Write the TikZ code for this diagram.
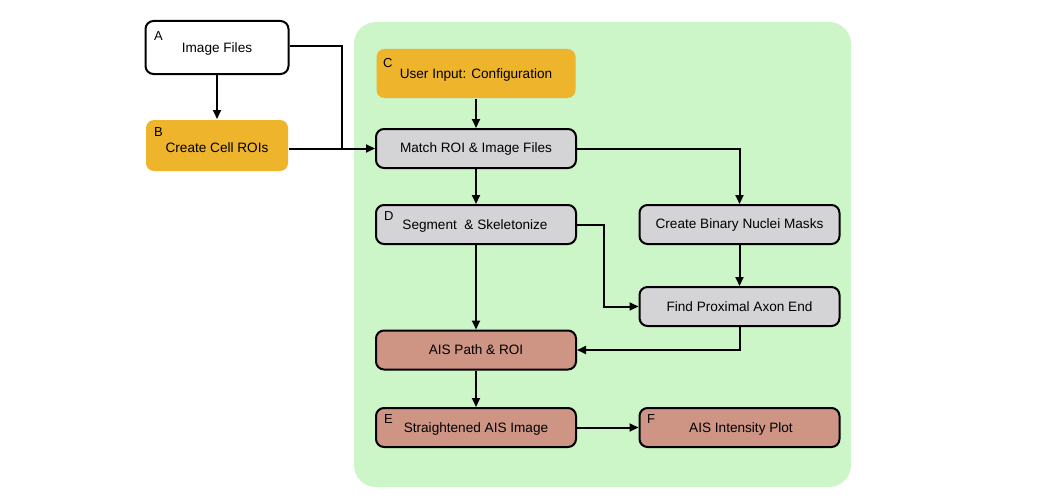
\documentclass[tikz,border=0pt]{standalone}
\usepackage{fontspec}
\setmainfont{Liberation Sans}
\usetikzlibrary{arrows.meta}
\definecolor{bggreen}{HTML}{CCF5C8}
\definecolor{orangebox}{HTML}{EDB42C}
\definecolor{graybox}{HTML}{D4D4D6}
\definecolor{salmonbox}{HTML}{CE9484}
\tikzset{
  txt/.style={font=\fontsize{13.6}{16}\selectfont, inner sep=0pt},
  box/.style={rectangle, rounded corners=8pt, minimum width=200pt, minimum height=39pt, inner sep=0pt, txt, line width=2pt},
  graystyle/.style={box, draw=black, fill=graybox},
  salmonstyle/.style={box, draw=black, fill=salmonbox},
  orangestyle/.style={box, fill=orangebox},
  letter/.style={font=\fontsize{13}{15}\selectfont, inner sep=0pt, anchor=north west},
  conn/.style={line width=2pt, -{Triangle[length=9pt,width=8pt]}},
}
\begin{document}
\begin{tikzpicture}[x=1pt,y=-1pt]
\useasboundingbox (0,0) rectangle (1049,503);
\fill[bggreen, rounded corners=22pt] (354,22) rectangle (851,487);

\node[box, draw=black, fill=white, minimum width=143pt, minimum height=53pt] (A) at (217,47.5) {};
\node[txt] (At) at (217,49) {Image Files};
\node[orangestyle, minimum width=142pt, minimum height=51pt] (B) at (217,145.5) {};
\node[txt] (Bt) at (217,148) {Create Cell ROIs};
\node[orangestyle, minimum width=199pt, minimum height=49pt] (C) at (476,73.5) {};
\node[txt] (Ct) at (476,75) {User Input: Configuration};
\node[graystyle] (M) at (476,148.5) {Match ROI \& Image Files};
\node[graystyle] (D) at (476,224.5) {};
\node[txt] (Dt) at (475,226) {Segment\ \ \& Skeletonize};
\node[graystyle] (N) at (739.5,224.5) {Create Binary Nuclei Masks};
\node[graystyle] (P) at (739.5,306.5) {Find Proximal Axon End};
\node[salmonstyle] (S) at (476,350) {AIS Path \& ROI};
\node[salmonstyle] (E) at (476,427.5) {};
\node[txt] (Et) at (476,429) {Straightened AIS Image};
\node[salmonstyle] (F) at (739.5,427.5) {};
\node[txt] (Ft) at (741,429) {AIS Intensity Plot};

\node[letter] (la) at (154,31) {A};
\node[letter] (lb) at (154,127) {B};
\node[letter] (lc) at (383,58) {C};
\node[letter] (ld) at (384,211) {D};
\node[letter] (le) at (384,414) {E};
\node[letter] (lf) at (647,414) {F};

\coordinate (aj) at (342,46);
\draw[conn] (A.south) -- (B.north);
\draw[line width=2pt] (A.east |- aj) -- (aj) -- (aj |- M.west);
\draw[conn] (B.east |- M.west) -- (M.west);
\draw[conn] (C.south) -- (M.north);
\draw[conn] (M.east) -| (N.north);
\draw[conn] (M.south) -- (D.north);
\draw[conn] (D.east) -- (604,224.5) |- (P.west);
\draw[conn] (N.south) -- (P.north);
\draw[conn] (P.south) |- (S.east);
\draw[conn] (D.south) -- (S.north);
\draw[conn] (S.south) -- (E.north);
\draw[conn] (E.east) -- (F.west);
\end{tikzpicture}
\end{document}
